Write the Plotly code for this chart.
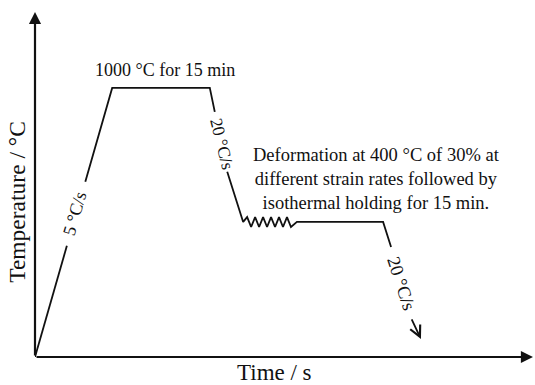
import plotly.graph_objects as go

# Schematic thermal cycle (time in arbitrary units 0-100, temperature in schematic units)
# Heating ramp 5 °C/s (lower part, below label)
heat_low_t = [0.0, 6.4]
heat_low_T = [0, 413]
# Heating upper part + 1000 °C hold + start of cooling
hold_t = [10.1, 15.5, 35.1, 36.1]
hold_T = [651, 1000, 1000, 911]
# Cooling 20 °C/s to deformation temperature, deformation zigzag, isothermal hold, start of final cooling
deform_t = [38.6, 41.8, 42.6, 43.4, 44.2, 45.0, 45.8, 46.6, 47.4, 48.2, 49.0, 49.8, 50.6, 51.4, 52.6, 69.9, 71.5]
deform_T = [688, 502, 520, 483, 520, 483, 520, 483, 520, 483, 520, 483, 520, 483, 502, 502, 409]
# Final cooling arrow
final_t = [75.5, 77.5]
final_T = [145, 67]

axis_t_max = 100
axis_T_max = 1282

labels = ["1000 °C for 15 min",
          "Deformation at 400 °C of 30% at<br>different strain rates followed by<br>isothermal holding for 15 min.",
          "5 °C/s", "20 °C/s", "20 °C/s"]
axis_titles = ["Temperature / °C", "Time / s"]

FONT = "Liberation Serif, Times New Roman, serif"
INK = "#111111"

fig = go.Figure()
for tx, ty in [(heat_low_t, heat_low_T), (hold_t, hold_T), (deform_t, deform_T)]:
    fig.add_trace(go.Scatter(x=tx, y=ty, mode="lines", line=dict(color=INK, width=1.8),
                             hoverinfo="skip", showlegend=False, cliponaxis=False))

ann = []
# axes arrows
ann.append(dict(x=axis_t_max, y=0, ax=0, ay=0, xref="x", yref="y", axref="x", ayref="y",
                text="", showarrow=True, arrowhead=2, arrowsize=1.1, arrowwidth=2.2,
                arrowcolor=INK, standoff=0))
ann.append(dict(x=0, y=axis_T_max, ax=0, ay=0, xref="x", yref="y", axref="x", ayref="y",
                text="", showarrow=True, arrowhead=2, arrowsize=1.1, arrowwidth=2.2,
                arrowcolor=INK, standoff=0))
# final cooling arrow
ann.append(dict(x=final_t[1], y=final_T[1], ax=final_t[0], ay=final_T[0], xref="x", yref="y",
                axref="x", ayref="y", text="", showarrow=True, arrowhead=5, arrowsize=1.2,
                arrowwidth=1.8, arrowcolor=INK, standoff=0))

def txt(t, T, s, size, angle=0):
    return dict(x=t, y=T, xref="x", yref="y", text=s, showarrow=False, textangle=angle,
                xanchor="center", yanchor="middle",
                font=dict(family=FONT, size=size, color=INK))

ann.append(txt(26.1, 1067, labels[0], 18))
ann.append(txt(68.5, 662, labels[1], 18.5))
ann.append(txt(8.0, 535, labels[2], 18, -74))
ann.append(txt(37.6, 792, labels[3], 17.5, 76))
ann.append(txt(73.5, 275, labels[4], 18.5, 72))
# axis titles (paper coordinates, outside the plot area)
ann.append(dict(x=-0.036, y=0.45, xref="paper", yref="paper", text=axis_titles[0],
                showarrow=False, textangle=-90, xanchor="center", yanchor="middle",
                font=dict(family=FONT, size=23.5, color=INK)))
ann.append(dict(x=0.48, y=-0.044, xref="paper", yref="paper", text=axis_titles[1],
                showarrow=False, xanchor="center", yanchor="middle",
                font=dict(family=FONT, size=23, color=INK)))

fig.update_layout(
    width=535, height=385,
    margin=dict(l=35, r=2, t=12, b=28),
    paper_bgcolor="white", plot_bgcolor="white",
    xaxis=dict(range=[0, axis_t_max], visible=False, fixedrange=True),
    yaxis=dict(range=[0, axis_T_max], visible=False, fixedrange=True),
    annotations=ann,
    showlegend=False,
)

fig.write_html("out.html")
